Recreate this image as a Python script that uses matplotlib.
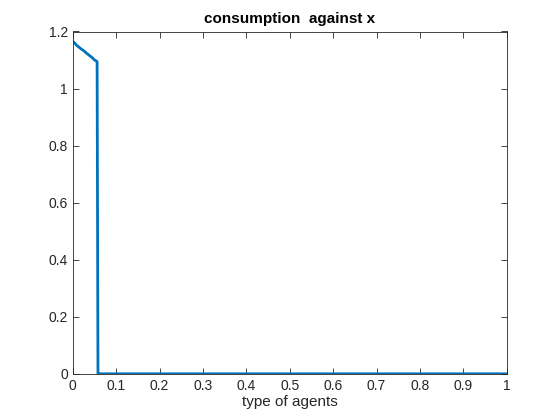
import matplotlib
matplotlib.use('Agg')
import matplotlib.pyplot as plt
import numpy as np

# data
x = [0.0, 0.005, 0.010, 0.015, 0.020, 0.025, 0.030, 0.035, 0.040, 0.045, 0.050, 0.054, 0.056, 0.058, 0.060, 0.1, 0.5, 1.0]
cons = [1.165, 1.158, 1.150, 1.144, 1.138, 1.133, 1.126, 1.120, 1.114, 1.108, 1.100, 1.097, 1.093, 0.0, 0.0, 0.0, 0.0, 0.0]
xticks = np.arange(0, 1.01, 0.1)
xlabels = ['0', '0.1', '0.2', '0.3', '0.4', '0.5', '0.6', '0.7', '0.8', '0.9', '1']
yticks = np.arange(0, 1.21, 0.2)
ylabels = ['0', '0.2', '0.4', '0.6', '0.8', '1', '1.2']

plt.rcParams['font.family'] = ['Liberation Sans', 'DejaVu Sans']
fig = plt.figure(figsize=(5.6, 4.2), dpi=100, facecolor='w')
ax = fig.add_axes([0.13, 0.11, 0.775, 0.815])
ax.plot(x, cons, color='#0072BD', lw=2)
ax.set_xlim(0, 1)
ax.set_ylim(0, 1.2)
ax.set_xticks(xticks)
ax.set_xticklabels(xlabels)
ax.set_yticks(yticks)
ax.set_yticklabels(ylabels)
ax.tick_params(direction='in', top=True, right=True, length=4, width=0.6, labelsize=10, colors='#262626')
for s in ax.spines.values():
    s.set_linewidth(0.6)
    s.set_color('#262626')
ax.set_xlabel('type of agents', fontsize=11, color='#262626', labelpad=2)
ax.set_title('consumption  against x', fontsize=11, fontweight='bold', pad=6)

fig.savefig('out.png', dpi=100)
